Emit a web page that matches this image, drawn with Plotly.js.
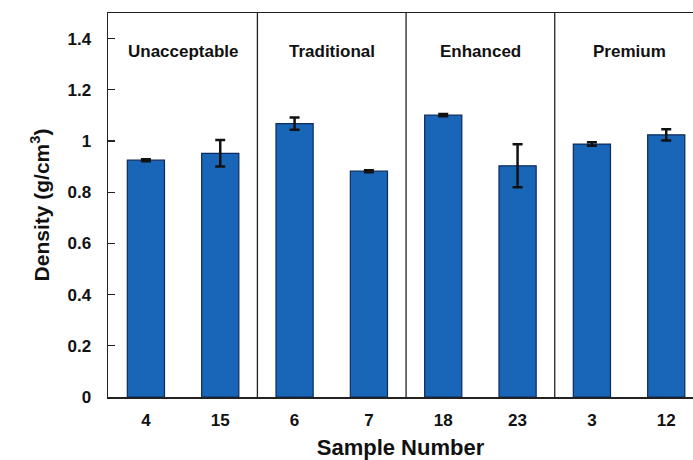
<!DOCTYPE html>
<html>
<head>
<meta charset="utf-8">
<script src="https://cdn.plot.ly/plotly-3.0.1.min.js"></script>
<style>html,body{margin:0;padding:0;background:#fff;}#chart{width:693px;height:460px;}</style>
</head>
<body>
<div id="chart"></div>
<script>
const samples = ['4', '15', '6', '7', '18', '23', '3', '12'];
const density = [0.925, 0.952, 1.068, 0.882, 1.101, 0.903, 0.988, 1.024];
const densityErr = [0.004, 0.052, 0.024, 0.004, 0.004, 0.084, 0.007, 0.022];
const groups = ['Unacceptable', 'Traditional', 'Enhanced', 'Premium'];
const groupCenters = [0.5, 2.5, 4.5, 6.5];
const separators = [1.5, 3.5, 5.5];
const yTicks = [0, 0.2, 0.4, 0.6, 0.8, 1, 1.2, 1.4];

const font = 'Liberation Sans, Arial, sans-serif';

const trace = {
  type: 'bar',
  x: samples,
  y: density,
  width: 0.5,
  marker: {color: '#1966b8', line: {color: '#0d2a5c', width: 1.2}},
  error_y: {type: 'data', array: densityErr, visible: true, color: '#111', thickness: 2.5, width: 5}
};

const shapes = separators.map(s => ({
  type: 'line', xref: 'x', yref: 'y', x0: s, x1: s, y0: 0, y1: 1.5,
  line: {color: '#222', width: 1.3}
}));

const annotations = groups.map((g, i) => ({
  x: groupCenters[i], y: 1.35, xref: 'x', yref: 'y', text: '<b>' + g + '</b>',
  showarrow: false, font: {family: font, size: 17, color: '#111'}
}));

const layout = {
  width: 693, height: 460,
  margin: {l: 108, r: 0, t: 13, b: 63},
  paper_bgcolor: '#fff', plot_bgcolor: '#fff',
  showlegend: false,
  xaxis: {
    type: 'category', range: [-0.51, 7.36],
    showline: true, linecolor: '#222', linewidth: 1.5, mirror: true,
    showgrid: false, zeroline: false, ticks: '',
    ticklabelstandoff: 7,
    tickfont: {family: font, size: 17, color: '#111', weight: 'bold'},
    title: {text: '<b>Sample Number</b>', font: {family: font, size: 22, color: '#111'}, standoff: 11}
  },
  yaxis: {
    range: [0, 1.5],
    tickvals: yTicks,
    ticktext: yTicks.map(v => String(v)),
    showline: true, linecolor: '#222', linewidth: 1.5,
    showgrid: false, zeroline: false,
    ticks: 'inside', ticklen: 7, tickcolor: '#222', tickwidth: 1.2,
    ticklabelstandoff: 12,
    tickfont: {family: font, size: 17, color: '#111', weight: 'bold'},
    title: {text: '<b>Density (g/cm<sup>3</sup>)</b>', font: {family: font, size: 21, color: '#111'}, standoff: 12}
  },
  shapes: shapes,
  annotations: annotations
};

Plotly.newPlot('chart', [trace], layout, {displayModeBar: false, staticPlot: true});
</script>
</body>
</html>
